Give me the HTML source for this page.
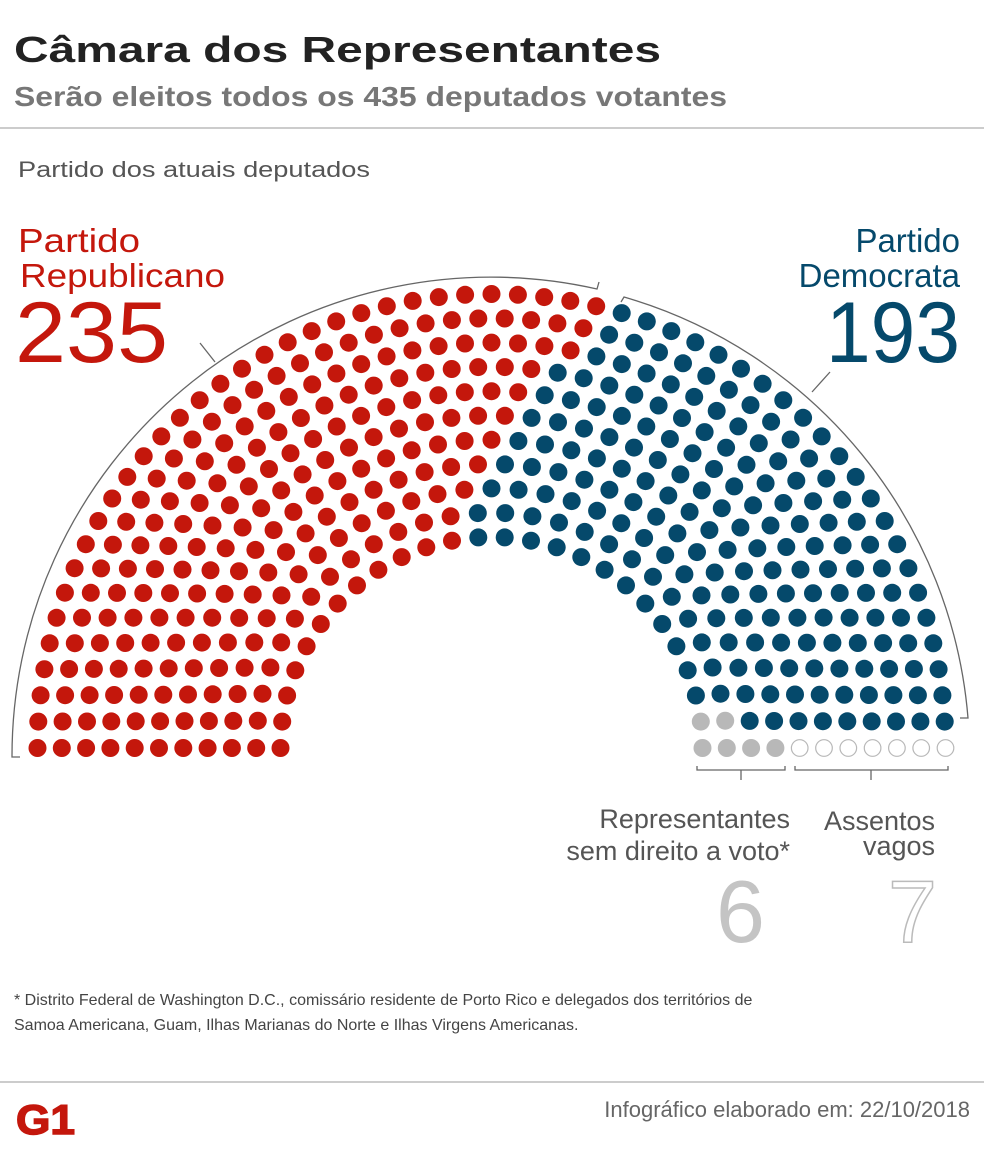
<!DOCTYPE html>
<html><head><meta charset="utf-8"><style>
html,body{margin:0;padding:0;background:#fff;width:984px;height:1165px;overflow:hidden}
text{font-family:"Liberation Sans",sans-serif}
</style></head><body>
<svg id="s" width="984" height="1165" viewBox="0 0 984 1165" xmlns="http://www.w3.org/2000/svg">
<text x="14" y="62" font-size="36" font-weight="bold" fill="#222" textLength="647" lengthAdjust="spacingAndGlyphs">Câmara dos Representantes</text>
<text x="14" y="106" font-size="28" font-weight="bold" fill="#777" textLength="713" lengthAdjust="spacingAndGlyphs">Serão eleitos todos os 435 deputados votantes</text>
<rect x="0" y="127" width="984" height="2" fill="#ccc"/>
<text x="18" y="177" font-size="22" fill="#555" textLength="352" lengthAdjust="spacingAndGlyphs">Partido dos atuais deputados</text>
<text x="18" y="252" font-size="33" fill="#c4170c" textLength="122" lengthAdjust="spacingAndGlyphs">Partido</text>
<text x="20" y="287" font-size="33" fill="#c4170c" textLength="205" lengthAdjust="spacingAndGlyphs">Republicano</text>
<text x="15" y="362" font-size="86" fill="#c4170c" textLength="153" lengthAdjust="spacingAndGlyphs">235</text>
<text x="960" y="252" font-size="33" fill="#05496b" text-anchor="end">Partido</text>
<text x="960" y="287" font-size="33" fill="#05496b" text-anchor="end">Democrata</text>
<text x="826" y="362" font-size="86" fill="#05496b" textLength="134" lengthAdjust="spacingAndGlyphs">193</text>
<g fill="none" stroke="#666" stroke-width="1.3">
<path d="M20 757 L12 757 A479 479 0 0 1 597 289 L599 282"/>
<path d="M621 302 L624 297 A479 479 0 0 1 968 718 L960 718"/>
<path d="M200 343 L215 362"/>
<path d="M812 392 L830 372"/>
<path d="M697 766 V770 H785 V766 M741 770 V780"/>
<path d="M795 766 V770 H948 V766 M871 770 V780"/>
</g>
<g id="dots"></g>
<text x="790" y="828" font-size="27" fill="#555" text-anchor="end">Representantes</text>
<text x="790" y="860" font-size="27" fill="#555" text-anchor="end">sem direito a voto*</text>
<text x="935" y="830" font-size="27" fill="#555" text-anchor="end">Assentos</text>
<text x="935" y="855" font-size="27" fill="#555" text-anchor="end">vagos</text>
<text x="716" y="942" font-size="88" fill="#c4c4c4">6</text>
<text x="888" y="942" font-size="88" fill="none" stroke="#bbb" stroke-width="1.5">7</text>
<text x="14" y="1005" font-size="16" fill="#444">* Distrito Federal de Washington D.C., comissário residente de Porto Rico e delegados dos territórios de</text>
<text x="14" y="1030" font-size="16" fill="#444">Samoa Americana, Guam, Ilhas Marianas do Norte e Ilhas Virgens Americanas.</text>
<rect x="0" y="1081" width="984" height="2" fill="#ccc"/>
<text x="16" y="1134" font-size="42" font-weight="bold" fill="#c4170c" stroke="#c4170c" stroke-width="1.5" textLength="59" lengthAdjust="spacingAndGlyphs">G1</text>
<text x="970" y="1117" font-size="22" fill="#666" text-anchor="end">Infográfico elaborado em: 22/10/2018</text>
</svg>
<script>
(function(){
var cx=491.5,cy=748,r0=211,step=24.3,rows=11,total=441;
var radii=[],sum=0;for(var i=0;i<rows;i++){radii.push(r0+step*i);sum+=radii[i];}
var counts=radii.map(function(r){return total*r/sum;});
var fl=counts.map(Math.floor),rem=total-fl.reduce(function(a,b){return a+b},0);
var order=counts.map(function(c,i){return[i,c-Math.floor(c)]}).sort(function(a,b){return b[1]-a[1]});
for(var k=0;k<rem;k++)fl[order[k][0]]++;
var seats=[];
for(var i=0;i<rows;i++){var n=fl[i];for(var j=0;j<n;j++){var a=Math.PI*(1-j/(n-1));seats.push({row:i,j:j,n:n,a:a,x:cx+radii[i]*Math.cos(a),y:cy-radii[i]*Math.sin(a)});}}
var normal=[],out="";
seats.forEach(function(s){
 if(s.j==s.n-1){s.t=s.row<4?"g":"e";}
 else if(s.j==s.n-2&&s.row<2){s.t="g";}
 else normal.push(s);
});
var c=0.0454;
normal.sort(function(a,b){return (b.a+c*b.row)-(a.a+c*a.row)||a.row-b.row;});
normal.forEach(function(s,i){s.t=i<235?"r":"b";});
seats.forEach(function(s){
 var f={r:'fill="#c4170c"',b:'fill="#05496b"',g:'fill="#b8b8b8"',e:'fill="#fff" stroke="#b8b8b8" stroke-width="1.2"'}[s.t];
 out+='<circle cx="'+s.x.toFixed(1)+'" cy="'+s.y.toFixed(1)+'" r="'+(s.t=="e"?8.3:9)+'" '+f+'/>';
});
document.getElementById("dots").innerHTML=out;
})();
</script>
</body></html>
